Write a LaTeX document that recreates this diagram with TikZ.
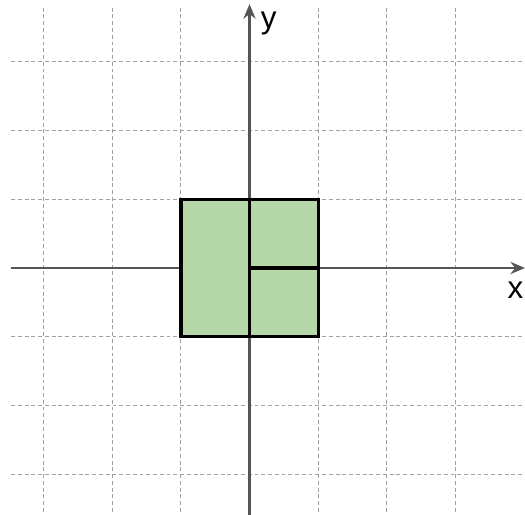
\documentclass[tikz,border=0pt]{standalone}
\usepackage{fontspec}
\setmainfont{Liberation Sans}
\definecolor{areagreen}{HTML}{B6D7A8}
\definecolor{axisgray}{HTML}{555555}
\definecolor{gridgray}{HTML}{A0A0A0}
\tikzset{
    gridline/.style={gridgray, dash pattern=on 1.6pt off 1.2pt, line width=0.4pt},
    axisline/.style={axisgray, line width=1pt, -{Stealth[length=6pt,width=5pt]}},
    piece/.style={fill=areagreen, draw=black, line width=1.4pt},
    axislabel/.style={font=\fontsize{13}{15}\selectfont}
}
\usetikzlibrary{arrows.meta}
\begin{document}
\begin{tikzpicture}
    \useasboundingbox (-3.632,-3.595) rectangle (4.010,3.901);
    % Grid
        \foreach \n in {-3,-2,-1,1,2,3}{
            \draw[gridline] (\n,-3.55) -- (\n,3.81);
            \draw[gridline] (-3.47,\n) -- (4.01,\n);
        }
    % Axes
        \coordinate (xstart) at (-3.47,0);
        \coordinate (xend) at (4.01,0);
        \coordinate (ystart) at (0,-3.6);
        \coordinate (yend) at (0,3.84);
        \draw[axisline] (xstart) -- (xend);
        \draw[axisline] (ystart) -- (yend);
    % Pieces
        \draw[piece] (-1,-1) rectangle (0,1);
        \draw[piece] (0,0) rectangle (1,1);
        \draw[piece] (0,-1) rectangle (1,0);
    % Labels
        \node[axislabel] (ylabel) at (0.28,3.56) {y};
        \node[axislabel] (xlabel) at (3.87,-0.33) {x};
\end{tikzpicture}
\end{document}
